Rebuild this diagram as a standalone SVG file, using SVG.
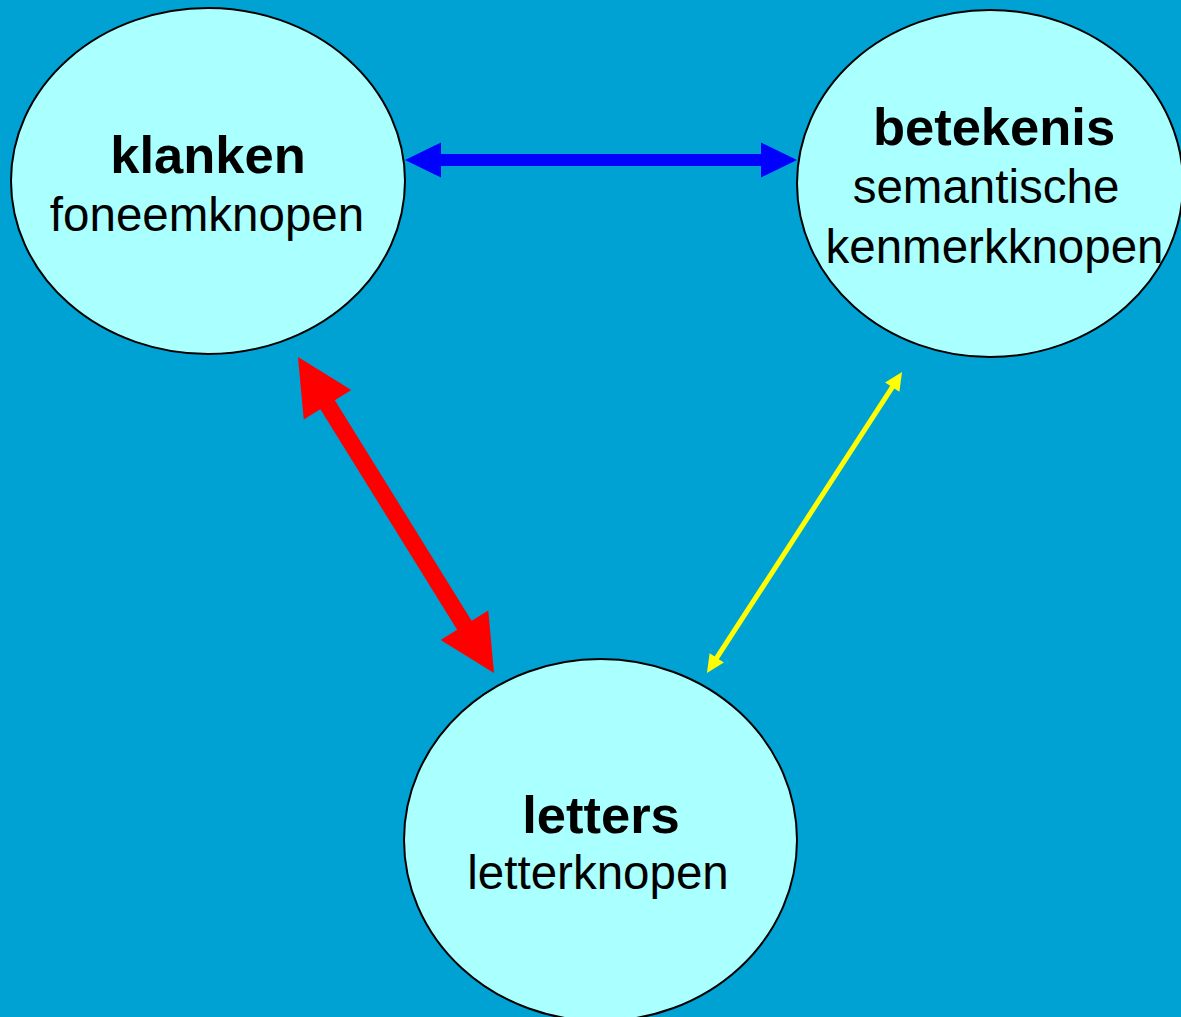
<svg xmlns="http://www.w3.org/2000/svg" width="1181" height="1017" viewBox="0 0 1181 1017">
  <style>
    .node { fill: #AAFFFF; stroke: #000000; stroke-width: 2; }
    .title { font-family: "Liberation Sans", Arial, sans-serif; font-weight: bold; font-size: 52.5px; fill: #000000; text-anchor: middle; }
    .sub { font-family: "Liberation Sans", Arial, sans-serif; font-size: 47.5px; fill: #000000; text-anchor: middle; }
  </style>
  <defs>
    <marker id="headBlue" markerUnits="userSpaceOnUse" markerWidth="40" markerHeight="40" refX="0" refY="0" viewBox="-2 -20 40 40" orient="auto-start-reverse" overflow="visible">
      <path d="M-1,-17.5 L35,0 L-1,17.5 Z" fill="#0000FF"/>
    </marker>
    <marker id="headRed" markerUnits="userSpaceOnUse" markerWidth="60" markerHeight="60" refX="0" refY="0" viewBox="-2 -30 60 60" orient="auto-start-reverse" overflow="visible">
      <path d="M-1,-28 L55,0 L-1,28 Z" fill="#FF0000"/>
    </marker>
    <marker id="headYellow" markerUnits="userSpaceOnUse" markerWidth="20" markerHeight="20" refX="0" refY="0" viewBox="-2 -10 20 20" orient="auto-start-reverse" overflow="visible">
      <path d="M-1,-8.5 L17,0 L-1,8.5 Z" fill="#FFFF00"/>
    </marker>
  </defs>
  <rect x="0" y="0" width="1181" height="1017" fill="#00A1D3"/>

  <g id="klanken">
    <ellipse class="node" cx="208" cy="181" rx="197" ry="173"/>
    <text class="title" x="208" y="173">klanken</text>
    <text class="sub" x="207" y="231">foneemknopen</text>
  </g>

  <g id="betekenis">
    <ellipse class="node" cx="990" cy="183.5" rx="193" ry="173.5"/>
    <text class="title" x="994" y="145">betekenis</text>
    <text class="sub" x="986" y="203">semantische</text>
    <text class="sub" x="994.5" y="263">kenmerkknopen</text>
  </g>

  <g id="letters">
    <ellipse class="node" cx="600.5" cy="840" rx="196.5" ry="181"/>
    <text class="title" x="601" y="833">letters</text>
    <text class="sub" x="598" y="889">letterknopen</text>
  </g>

  <g id="connectors">
    <line x1="440" y1="160" x2="762" y2="160" stroke="#0000FF" stroke-width="12" marker-start="url(#headBlue)" marker-end="url(#headBlue)"/>
    <line x1="327" y1="403.8" x2="465" y2="626.2" stroke="#FF0000" stroke-width="17" marker-start="url(#headRed)" marker-end="url(#headRed)"/>
    <line x1="892.8" y1="386.3" x2="716.2" y2="658.7" stroke="#FFFF00" stroke-width="5" marker-start="url(#headYellow)" marker-end="url(#headYellow)"/>
  </g>
</svg>
